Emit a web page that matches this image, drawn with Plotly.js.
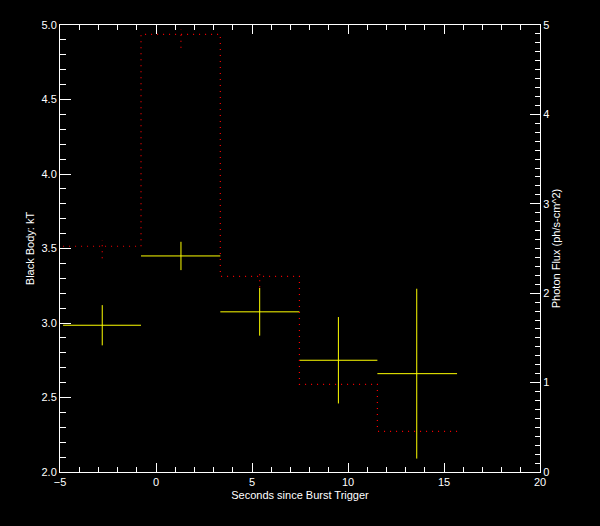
<!DOCTYPE html>
<html>
<head>
<meta charset="utf-8">
<script src="https://cdn.plot.ly/plotly-3.0.1.min.js"></script>
<style>html,body{margin:0;padding:0;background:#000;}#plot{width:600px;height:526px;}</style>
</head>
<body>
<div id="plot"></div>
<script>
// Time bins (seconds since burst trigger)
const binStart = [-4.84, -0.78, 3.35, 7.47, 11.53];
const binEnd   = [-0.78, 3.35, 7.47, 11.53, 15.68];
const binMid   = [-2.80, 1.30, 5.40, 9.50, 13.58];
// Black body kT and 1-sigma errors
const kT    = [2.985, 3.450, 3.075, 2.750, 2.660];
const kTErr = [0.135, 0.095, 0.160, 0.290, 0.570];
// Photon flux (ph/s-cm^2) and error range
const flux   = [2.525, 4.896, 2.189, 0.981, 0.455];
const fluxLo = [2.390, 4.746, 2.066, 0.981, 0.455];
const fluxHi = [2.595, 4.950, 2.267, 0.981, 0.455];

const red = '#ff0000';
const yellow = '#ffff00';

// step line for flux
const stepX = binStart.concat([binEnd[binEnd.length - 1]]);
const stepY = flux.concat([flux[flux.length - 1]]);

// flux error segments
const fxErr = [], fyErr = [];
for (let i = 0; i < binMid.length; i++) {
  if (fluxHi[i] > fluxLo[i]) {
    fxErr.push(binMid[i], binMid[i], null);
    fyErr.push(fluxLo[i], fluxHi[i], null);
  }
}

const traces = [
  {
    x: stepX, y: stepY, yaxis: 'y2', type: 'scatter', mode: 'lines',
    line: {shape: 'hv', color: red, width: 1.2, dash: '1px,5px'},
    hoverinfo: 'skip', showlegend: false
  },
  {
    x: fxErr, y: fyErr, yaxis: 'y2', type: 'scatter', mode: 'lines',
    line: {color: red, width: 1.2, dash: '1px,5px'},
    connectgaps: false, hoverinfo: 'skip', showlegend: false
  },
  {
    x: binMid, y: kT, type: 'scatter', mode: 'markers',
    marker: {size: 1, color: yellow, opacity: 0},
    error_y: {type: 'data', array: kTErr, symmetric: true, color: yellow, thickness: 1, width: 0},
    error_x: {type: 'data', array: binEnd.map((e, i) => e - binMid[i]),
              arrayminus: binStart.map((s, i) => binMid[i] - s), symmetric: false,
              color: yellow, thickness: 1, width: 0},
    showlegend: false
  }
];

const fnt = {family: 'Liberation Sans, Arial, sans-serif', size: 11, color: '#ffffff'};

const layout = {
  width: 600, height: 526,
  paper_bgcolor: '#000000', plot_bgcolor: '#000000',
  margin: {l: 60, r: 60, t: 25, b: 54},
  font: fnt,
  showlegend: false,
  xaxis: {
    range: [-5, 20], dtick: 5, tick0: 0, ticks: 'inside', ticklen: 9, tickwidth: 1, tickcolor: '#fff',
    showline: true, linecolor: '#fff', linewidth: 1, mirror: 'ticks',
    showgrid: false, zeroline: false, tickfont: fnt,
    minor: {dtick: 1, ticks: 'inside', ticklen: 5, tickcolor: '#fff', showgrid: false},
    title: {text: 'Seconds since Burst Trigger', font: fnt, standoff: 4}
  },
  yaxis: {
    range: [2, 5], dtick: 0.5, tick0: 0, ticks: 'inside', ticklen: 11, tickwidth: 1, tickcolor: '#fff',
    tickformat: '.1f',
    showline: true, linecolor: '#fff', linewidth: 1, mirror: false,
    showgrid: false, zeroline: false, tickfont: fnt,
    minor: {dtick: 0.1, ticks: 'inside', ticklen: 6, tickcolor: '#fff', showgrid: false},
    title: {text: 'Black Body: kT', font: fnt, standoff: 4}
  },
  yaxis2: {
    range: [0, 5], dtick: 1, tick0: 0, overlaying: 'y', side: 'right',
    ticks: 'inside', ticklen: 10, tickwidth: 1, tickcolor: '#fff',
    showline: true, linecolor: '#fff', linewidth: 1,
    showgrid: false, zeroline: false, tickfont: fnt,
    minor: {dtick: 0.1, ticks: 'inside', ticklen: 5, tickcolor: '#fff', showgrid: false},
    title: {text: 'Photon Flux (ph/s-cm^2)', font: fnt, standoff: 3}
  }
};

Plotly.newPlot('plot', traces, layout, {displayModeBar: false, staticPlot: true});
</script>
</body>
</html>
